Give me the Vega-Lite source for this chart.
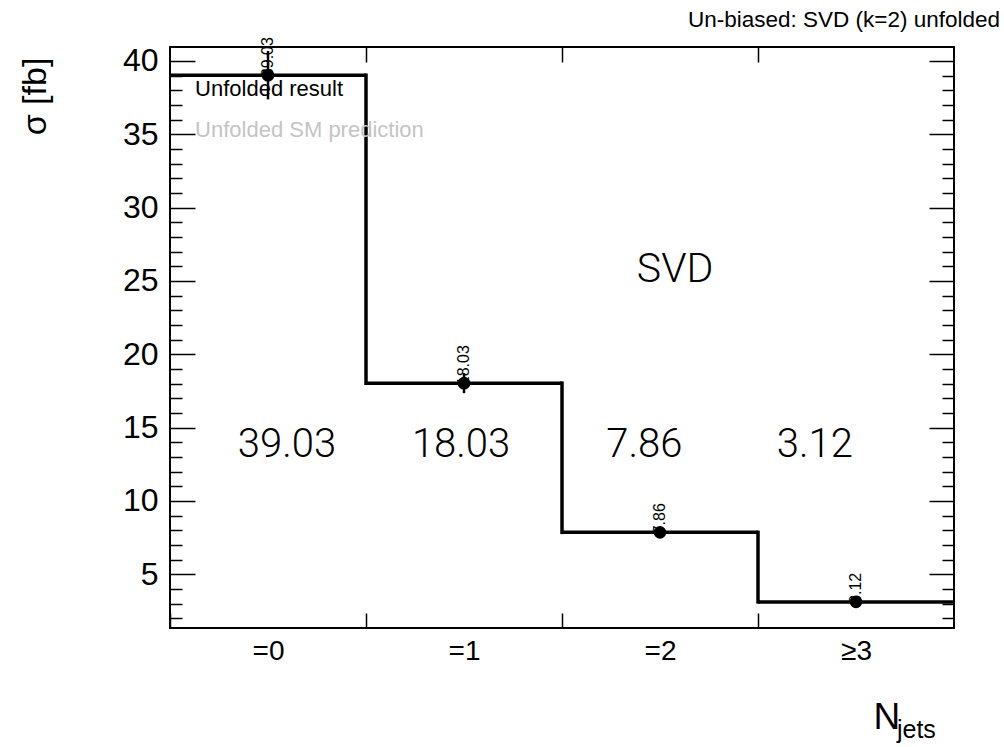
{
  "$schema": "https://vega.github.io/schema/vega-lite/v6.json",
  "width": 784,
  "height": 581,
  "autosize": {"type": "none"},
  "padding": {"left": 170, "top": 47, "right": 50, "bottom": 119},
  "background": "white",
  "config": {
    "view": {"stroke": "black", "strokeWidth": 2},
    "font": "Liberation Sans",
    "axis": {"domain": false, "grid": false, "tickColor": "black", "tickWidth": 1.5, "labelColor": "black", "titleColor": "black", "labelFont": "Liberation Sans", "titleFont": "Liberation Sans", "titleFontWeight": "normal", "labelFlush": false, "labelOverlap": false, "labelBound": false}
  },
  "datasets": {
    "bins": [
      {"bin": 0, "label": "=0", "lo": -0.5, "hi": 0.5, "value": 39.03, "err": 1.65, "tx": 0.097},
      {"bin": 1, "label": "=1", "lo": 0.5, "hi": 1.5, "value": 18.03, "err": 0.68, "tx": 0.985},
      {"bin": 2, "label": "=2", "lo": 1.5, "hi": 2.5, "value": 7.86, "err": 0.35, "tx": 1.92},
      {"bin": 3, "label": "≥3", "lo": 2.5, "hi": 3.5, "value": 3.12, "err": 0.25, "tx": 2.79}
    ]
  },
  "resolve": {"axis": {"x": "independent", "y": "independent"}},
  "layer": [
    {
      "data": {"name": "bins"},
      "mark": {"type": "rule", "strokeWidth": 3.5, "color": "black", "strokeCap": "butt"},
      "encoding": {
        "x": {"field": "lo", "type": "quantitative",
          "scale": {"domain": [-0.5, 3.5], "nice": false, "zero": false},
          "axis": {"orient": "bottom", "values": [-0.5, 0.5, 1.5, 2.5], "tickSize": -15, "labelOffset": 98, "labelPadding": 24,
            "labelExpr": "datum.value < 0 ? '=0' : datum.value < 1 ? '=1' : datum.value < 2 ? '=2' : '≥3'",
            "labelFontSize": 28, "title": "N", "titleFontSize": 37, "titleX": 703, "titleY": 100, "titleAlign": "left", "titleBaseline": "alphabetic"}},
        "x2": {"field": "hi"},
        "y": {"field": "value", "type": "quantitative",
          "scale": {"domain": [1.34, 40.95], "nice": false, "zero": false},
          "axis": {"orient": "left", "values": [2,3,4,5,6,7,8,9,10,11,12,13,14,15,16,17,18,19,20,21,22,23,24,25,26,27,28,29,30,31,32,33,34,35,36,37,38,39,40],
            "tickSize": {"condition": {"test": "datum.value % 5 === 0", "value": -25}, "value": -12},
            "labelExpr": "datum.value % 5 === 0 ? datum.label : ''", "labelFontSize": 32, "labelPadding": 37,
            "title": "σ [fb]", "titleFontSize": 34, "titleAngle": 270, "titleX": -135, "titleY": 49, "titleAlign": "center", "titleBaseline": "middle"}}
      }
    },
    {
      "data": {"name": "bins"},
      "mark": {"type": "point", "opacity": 0},
      "encoding": {
        "x": {"field": "lo", "type": "quantitative",
          "axis": {"orient": "top", "values": [0.5, 1.5, 2.5], "tickSize": -15, "labels": false, "title": null}},
        "y": {"field": "value", "type": "quantitative",
          "axis": {"orient": "right", "values": [2,3,4,5,6,7,8,9,10,11,12,13,14,15,16,17,18,19,20,21,22,23,24,25,26,27,28,29,30,31,32,33,34,35,36,37,38,39,40],
            "tickSize": {"condition": {"test": "datum.value % 5 === 0", "value": -25}, "value": -12},
            "labels": false, "title": null}}
      }
    },
    {
      "data": {"name": "bins"},
      "transform": [
        {"window": [{"op": "lead", "field": "value", "as": "next"}], "sort": [{"field": "lo"}]},
        {"filter": "datum.next != null"}
      ],
      "mark": {"type": "rule", "strokeWidth": 3.5, "color": "black", "strokeCap": "square"},
      "encoding": {
        "x": {"field": "hi", "type": "quantitative", "axis": null},
        "y": {"field": "value", "type": "quantitative", "axis": null},
        "y2": {"field": "next"}
      }
    },
    {
      "data": {"name": "bins"},
      "mark": {"type": "errorbar", "thickness": 2.5, "color": "black"},
      "encoding": {
        "x": {"field": "bin", "type": "quantitative", "axis": null},
        "y": {"field": "value", "type": "quantitative", "axis": null},
        "yError": {"field": "err"}
      }
    },
    {
      "data": {"name": "bins"},
      "mark": {"type": "circle", "size": 160, "color": "black", "opacity": 1},
      "encoding": {
        "x": {"field": "bin", "type": "quantitative", "axis": null},
        "y": {"field": "value", "type": "quantitative", "axis": null}
      }
    },
    {
      "data": {"name": "bins"},
      "mark": {"type": "text", "angle": 270, "align": "left", "baseline": "middle", "fontSize": 16, "color": "black", "dx": -2},
      "encoding": {
        "x": {"field": "bin", "type": "quantitative", "axis": null},
        "y": {"field": "value", "type": "quantitative", "axis": null},
        "text": {"field": "value", "type": "quantitative", "format": ".2f"}
      }
    },
    {
      "data": {"name": "bins"},
      "mark": {"type": "text", "align": "center", "baseline": "alphabetic", "fontSize": 40, "font": "Roboto", "fontWeight": 300, "color": "black"},
      "encoding": {
        "x": {"field": "tx", "type": "quantitative", "axis": null},
        "y": {"datum": 13, "type": "quantitative", "axis": null},
        "text": {"field": "value", "type": "quantitative", "format": ".2f"}
      }
    },
    {
      "data": {"values": [{"t": "SVD"}]},
      "mark": {"type": "text", "align": "center", "baseline": "alphabetic", "fontSize": 41, "font": "Roboto", "fontWeight": 300, "color": "black"},
      "encoding": {
        "x": {"datum": 2.077, "type": "quantitative", "axis": null},
        "y": {"datum": 24.93, "type": "quantitative", "axis": null},
        "text": {"field": "t"}
      }
    },
    {
      "data": {"values": [{"t": "Unfolded result"}]},
      "mark": {"type": "text", "align": "left", "baseline": "alphabetic", "fontSize": 22, "color": "black"},
      "encoding": {
        "x": {"datum": -0.372, "type": "quantitative", "axis": null},
        "y": {"datum": 37.61, "type": "quantitative", "axis": null},
        "text": {"field": "t"}
      }
    },
    {
      "data": {"values": [{"t": "Unfolded SM prediction"}]},
      "mark": {"type": "text", "align": "left", "baseline": "alphabetic", "fontSize": 22, "color": "#c4c4c4"},
      "encoding": {
        "x": {"datum": -0.372, "type": "quantitative", "axis": null},
        "y": {"datum": 34.83, "type": "quantitative", "axis": null},
        "text": {"field": "t"}
      }
    },
    {
      "data": {"values": [{"t": "jets"}]},
      "mark": {"type": "text", "align": "left", "baseline": "alphabetic", "fontSize": 25, "color": "black"},
      "encoding": {
        "x": {"datum": 3.209, "type": "quantitative", "axis": null},
        "y": {"datum": -6.16, "type": "quantitative", "axis": null},
        "text": {"field": "t"}
      }
    },
    {
      "data": {"values": [{"t": "Un-biased: SVD (k=2) unfolded"}]},
      "mark": {"type": "text", "align": "right", "baseline": "alphabetic", "fontSize": 22.5, "color": "black"},
      "encoding": {
        "x": {"datum": 3.735, "type": "quantitative", "axis": null},
        "y": {"datum": 42.31, "type": "quantitative", "axis": null},
        "text": {"field": "t"}
      }
    }
  ]
}
